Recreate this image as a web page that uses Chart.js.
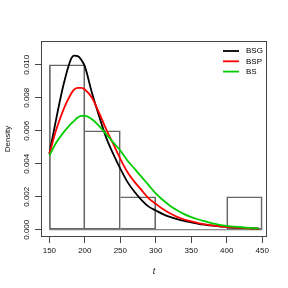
<!DOCTYPE html>
<html>
<head>
<meta charset="utf-8">
<script src="https://cdn.jsdelivr.net/npm/chart.js@4.4.1/dist/chart.umd.min.js"></script>
<style>
  html, body { margin: 0; padding: 0; background: #fff; }
  #wrap { width: 288px; height: 288px; }
</style>
</head>
<body>
<div id="wrap"><canvas id="c" width="288" height="288"></canvas></div>
<script>
// fitted densities
const t = [150, 160, 170, 180, 185, 190, 195, 200, 210, 220, 230, 240, 250, 260, 270, 280, 290,
  300, 310, 320, 330, 340, 350, 360, 370, 380, 390, 400, 410, 420, 430, 440, 445];
const bsg = [0.0046, 0.0068, 0.0088, 0.0103, 0.01055, 0.01052, 0.0103, 0.0099, 0.0083, 0.0069,
  0.0056, 0.0046, 0.0037, 0.0029, 0.0023, 0.0018, 0.0014, 0.00117, 0.00095, 0.00078, 0.00065,
  0.00054, 0.00045, 0.00036, 0.0003, 0.00025, 0.00021, 0.00018, 0.00015, 0.00012, 0.0001, 0.00008, 0.00007];
const bsp = [0.0046, 0.0061, 0.0073, 0.0082, 0.0085, 0.0086, 0.0086, 0.0085, 0.0080, 0.0071,
  0.0061, 0.0052, 0.0043, 0.0035, 0.0029, 0.0024, 0.0019, 0.00157, 0.00125, 0.001, 0.00078,
  0.00062, 0.0005, 0.0004, 0.00032, 0.00026, 0.00021, 0.00017, 0.00014, 0.00011, 0.00009, 0.00007, 0.00006];
const bs = [0.0045, 0.0053, 0.0059, 0.0064, 0.0066, 0.0068, 0.0069, 0.0069, 0.0067, 0.0063,
  0.0058, 0.0053, 0.0048, 0.0042, 0.0037, 0.0032, 0.0027, 0.0022, 0.0018, 0.00146, 0.00118,
  0.00095, 0.00077, 0.00062, 0.0005, 0.00038, 0.0003, 0.00024, 0.00019, 0.00015, 0.00012, 0.00009, 0.00008];

// histogram
const binEdges = [150, 200, 250, 300, 350, 400, 450];
const binDensity = [0.010, 0.006, 0.002, 0, 0, 0.002];

const seriesNames = ['BSG', 'BSP', 'BS'];
const seriesColors = ['#000000', '#ff0000', '#00cc00'];
const seriesValues = [bsg, bsp, bs];

const FONT = '"Liberation Sans", Arial, Helvetica, sans-serif';

const bins = binDensity.map((d, i) => ({ x: (binEdges[i] + binEdges[i + 1]) / 2, y: d }));

// R-style box around the plot region
const framePlugin = {
  id: 'frame',
  afterDatasetsDraw(chart) {
    const { ctx, chartArea: a } = chart;
    ctx.save();
    ctx.strokeStyle = '#444';
    ctx.lineWidth = 1;
    ctx.strokeRect(a.left + 0.5, a.top + 0.5, a.right - a.left - 1, a.bottom - a.top - 1);
    ctx.restore();
  }
};

// legend sitting inside the top right corner of the box
const insideLegend = {
  id: 'insideLegend',
  afterDraw(chart) {
    const { ctx, chartArea: a } = chart;
    ctx.save();
    ctx.font = '8px ' + FONT;
    ctx.textBaseline = 'middle';
    ctx.textAlign = 'left';
    let row = 0;
    chart.data.datasets.forEach(ds => {
      if (!ds.inLegend) return;
      const y = a.top + 10 + row * 10.3;
      ctx.strokeStyle = ds.borderColor;
      ctx.lineWidth = 1.8;
      ctx.beginPath();
      ctx.moveTo(a.right - 44, y);
      ctx.lineTo(a.right - 28, y);
      ctx.stroke();
      ctx.fillStyle = '#000';
      ctx.fillText(ds.label, a.right - 21, y);
      row++;
    });
    ctx.restore();
  }
};

const curveSets = seriesNames.map((name, i) => ({
  type: 'line',
  label: name,
  inLegend: true,
  data: t.map((x, j) => ({ x: x, y: seriesValues[i][j] })),
  borderColor: seriesColors[i],
  borderWidth: 1.8,
  pointRadius: 0,
  cubicInterpolationMode: 'monotone',
  fill: false,
  order: 3 - i
}));

// shared bin edges are drawn once, by the taller of the two bars
function binBorder(ctx) {
  const i = ctx.dataIndex;
  const d = binDensity[i];
  const left = i === 0 || binDensity[i - 1] <= d ? 1 : 0;
  const right = i === binDensity.length - 1 || binDensity[i + 1] < d ? 1 : 0;
  return { top: 1, bottom: 1, left: left, right: right };
}

new Chart(document.getElementById('c'), {
  type: 'line',
  data: {
    datasets: [
      ...curveSets,
      {
        type: 'bar',
        label: 'hist',
        data: bins,
        backgroundColor: 'rgba(0,0,0,0)',
        borderColor: '#666',
        borderWidth: binBorder,
        borderSkipped: false,
        barPercentage: 1,
        categoryPercentage: 1,
        order: 10
      },
      {
        type: 'line',
        label: 'base',
        data: [{ x: binEdges[0], y: 0 }, { x: binEdges[binEdges.length - 1], y: 0 }],
        borderColor: '#666',
        borderWidth: 1,
        pointRadius: 0,
        order: 9
      }
    ]
  },
  options: {
    responsive: false,
    animation: false,
    devicePixelRatio: 1,
    layout: { padding: { top: 41, right: 21, left: 0, bottom: 0 } },
    plugins: {
      legend: { display: false },
      tooltip: { enabled: false }
    },
    scales: {
      x: {
        type: 'linear',
        position: 'bottom',
        min: 138.2,
        max: 456.8,
        offset: false,
        afterFit: s => { s.height = 51; },
        border: { display: false },
        grid: { display: true, offset: false, drawOnChartArea: false, drawTicks: true, tickLength: 6, color: '#444' },
        ticks: {
          stepSize: 50,
          includeBounds: false,
          autoSkip: false,
          maxRotation: 0,
          padding: 3,
          color: '#111',
          font: { family: FONT, size: 8 }
        },
        title: {
          display: true,
          text: 't',
          color: '#111',
          font: { family: FONT, size: 9, style: 'italic' },
          padding: { top: 0, bottom: 11 }
        }
      },
      y: {
        type: 'linear',
        min: -0.00044,
        max: 0.01144,
        afterFit: s => { s.width = 41; },
        border: { display: false },
        grid: { display: true, drawOnChartArea: false, drawTicks: true, tickLength: 6, color: '#444' },
        ticks: {
          stepSize: 0.002,
          includeBounds: false,
          minRotation: 90,
          maxRotation: 90,
          crossAlign: 'center',
          padding: -2,
          color: '#111',
          font: { family: FONT, size: 8 },
          callback: v => v.toFixed(3)
        },
        title: {
          display: true,
          text: 'Density',
          color: '#111',
          font: { family: FONT, size: 8 },
          padding: { top: 3, bottom: 0 }
        }
      }
    }
  },
  plugins: [framePlugin, insideLegend]
});
</script>
</body>
</html>
